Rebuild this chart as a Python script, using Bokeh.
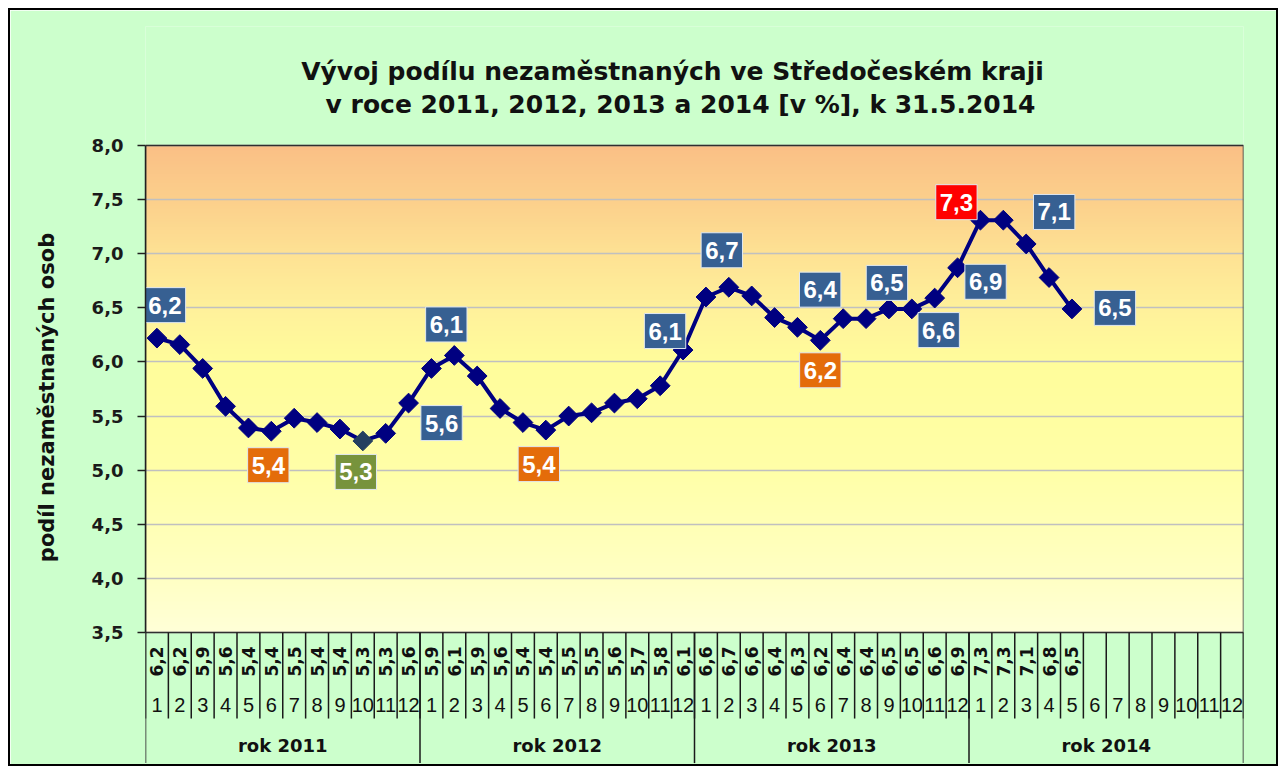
import numpy as np
from bokeh.plotting import figure
from bokeh.models import ColumnDataSource, FixedTicker, Range1d
from bokeh.core.properties import value
from bokeh.embed import file_html
from bokeh.resources import INLINE

# ---------------- data ----------------
years = ["2011", "2012", "2013", "2014"]
year_labels = ["rok 2011", "rok 2012", "rok 2013", "rok 2014"]
months = [str(m) for m in range(1, 13)]
v2011 = [6.22, 6.16, 5.94, 5.59, 5.39, 5.36, 5.48, 5.44, 5.38, 5.27, 5.34, 5.62]
v2012 = [5.94, 6.06, 5.87, 5.57, 5.44, 5.37, 5.50, 5.53, 5.62, 5.66, 5.78, 6.11]
v2013 = [6.60, 6.69, 6.61, 6.41, 6.32, 6.20, 6.40, 6.40, 6.49, 6.49, 6.59, 6.87]
v2014 = [7.31, 7.31, 7.09, 6.78, 6.49]
y_ticks = [3.5, 4.0, 4.5, 5.0, 5.5, 6.0, 6.5, 7.0, 7.5, 8.0]
title_lines = ["Vývoj podílu nezaměstnaných ve Středočeském kraji",
               "v roce 2011, 2012, 2013 a 2014 [v %], k 31.5.2014"]
y_title = "podíl nezaměstnaných osob"

# callout data labels: (point index, colour key, dx px, dy px)
callouts = [(0, "blue", 8, -33), (5, "orange", -3, 34), (9, "green", -7, 31),
            (11, "blue", 33, 20), (13, "blue", -8, -31), (17, "orange", -7, 34),
            (23, "blue", -18, -19), (25, "blue", -7, -37), (30, "blue", -23, -29),
            (29, "orange", 0, 30), (32, "blue", -2, -26), (34, "blue", 4, 32),
            (36, "red", -24, -18), (35, "blue", 28, 14), (38, "blue", 28, -32),
            (40, "blue", 43, -1)]
box_colors = {"blue": "#376092", "orange": "#E46C0A", "green": "#77933C", "red": "#FF0000"}

def fmt(v):
    return f"{v:.1f}".replace(".", ",")

values = v2011 + v2012 + v2013 + v2014
n_slots = len(years) * len(months)
xs = list(range(1, len(values) + 1))

# ---------------- figure ----------------
FONT = "Liberation Sans"
WIDE = "DejaVu Sans"
W, H = 1270, 758
LEFT, RIGHT, TOP_PX, AREA_TOP = 135, 37, 16, 135
px_per_unit = 487 / 4.5
y_bottom = 8.0 - (H - AREA_TOP) / px_per_unit
y_top = 8.0 + (AREA_TOP - TOP_PX) / px_per_unit

p = figure(width=W, height=H, output_backend="svg", toolbar_location=None,
           x_range=Range1d(0.5, n_slots + 0.5), y_range=Range1d(y_bottom, y_top),
           x_axis_type=None, min_border_left=LEFT, min_border_right=RIGHT,
           min_border_top=TOP_PX, min_border_bottom=0, title=None)
p.margin = (8, 0, 0, 8)
p.styles = {"border": "2px solid black"}
p.background_fill_color = "#CCFFCC"
p.border_fill_color = "#CCFFCC"
p.outline_line_color = None

# gradient plot area (styling)
stops_v = [3.5, 4.0, 5.0, 6.0, 6.5, 7.0, 7.5, 8.0]
stops_c = [(255, 255, 216), (255, 255, 196), (255, 255, 168), (255, 253, 155),
           (255, 241, 155), (254, 226, 148), (252, 208, 140), (250, 192, 134)]
N = 300
ys_g = np.linspace(3.5, 8.0, N)
img = np.empty((N, 1), dtype=np.uint32)
view = img.view(dtype=np.uint8).reshape((N, 1, 4))
for k in range(3):
    view[:, 0, k] = np.interp(ys_g, stops_v, [c[k] for c in stops_c]).astype(np.uint8)
view[:, 0, 3] = 255
p.image_rgba(image=[img], x=0.5, y=3.5, dw=n_slots, dh=4.5, level="image")

# y axis
p.yaxis.bounds = (3.5, 8.0)
p.yaxis.ticker = FixedTicker(ticks=y_ticks)
p.yaxis.major_label_overrides = {t: fmt(t) for t in y_ticks}
p.yaxis.major_label_text_font = WIDE
p.yaxis.major_label_text_font_style = "bold"
p.yaxis.major_label_text_font_size = "18px"
p.yaxis.major_label_text_color = "#1a1a1a"
p.yaxis.major_label_standoff = 14
p.yaxis.major_tick_out = 8
p.yaxis.major_tick_in = 0
p.yaxis.minor_tick_line_color = None
p.yaxis.axis_line_color = "#202020"
p.yaxis.axis_line_width = 1.5
p.yaxis.major_tick_line_color = "#202020"
p.yaxis.major_tick_line_width = 1.5
p.yaxis.axis_label = y_title
p.yaxis.axis_label_text_font = WIDE
p.yaxis.axis_label_text_font_style = "bold"
p.yaxis.axis_label_text_font_size = "21px"
p.yaxis.axis_label_text_color = "#111111"
p.yaxis.axis_label_standoff = 30
p.ygrid.ticker = FixedTicker(ticks=y_ticks)
p.ygrid.grid_line_color = "#C0C0C0"
p.ygrid.grid_line_width = 1.5

# plot-area frame
p.quad(left=[0.5], right=[n_slots + 0.5], bottom=[3.5], top=[8.0],
       fill_color=None, line_color="#303030", line_width=1.5)

# title
p.text(x=[23.54, 23.89], y=[8.684, 8.379], text=title_lines, text_align="center",
       text_baseline="middle", text_font=value(WIDE), text_font_style="bold",
       text_font_size="25px", text_color="#111111")

# category table below the plot area
bounds_x = [i + 0.5 for i in range(n_slots + 1)]
year_bounds = [i * len(months) + 0.5 for i in range(len(years) + 1)]
row_val, row_month, row_line, row_year = 3.232, 2.826, 2.705, 2.456
p.segment(x0=bounds_x, y0=[3.5] * len(bounds_x), x1=bounds_x, y1=[row_line] * len(bounds_x),
          line_color="#1a1a1a", line_width=1.5)
p.segment(x0=year_bounds, y0=[3.5] * len(year_bounds), x1=year_bounds,
          y1=[y_bottom + 0.05] * len(year_bounds), line_color="#1a1a1a", line_width=1.5)
p.text(x=xs, y=[row_val] * len(xs), text=[fmt(v) for v in values], angle=np.pi / 2,
       text_align="center", text_baseline="middle", text_font=value(WIDE),
       text_font_style="bold", text_font_size="17px", text_color="#111111")
slot_x = list(range(1, n_slots + 1))
p.text(x=slot_x, y=[row_month] * n_slots, text=months * len(years),
       text_align="center", text_baseline="middle", text_font=value(FONT),
       text_font_size="20px", text_color="#111111")
p.text(x=[6.5 + 12 * i for i in range(len(years))], y=[row_year] * len(years),
       text=year_labels, text_align="center", text_baseline="middle",
       text_font=value(WIDE), text_font_style="bold", text_font_size="18px",
       text_color="#111111")

# series
p.line(xs, values, line_color="#000080", line_width=4)
mcolors = ["#000080"] * len(values)
mcolors[9] = "#243F60"
p.scatter(xs, values, marker="square", size=14, angle=np.pi / 4,
          fill_color=mcolors, line_color=mcolors)

# callout labels
src = ColumnDataSource(dict(
    x=[xs[i] for i, _, _, _ in callouts],
    y=[values[i] for i, _, _, _ in callouts],
    t=[fmt(values[i]) for i, _, _, _ in callouts],
    bg=[box_colors[c] for _, c, _, _ in callouts],
    dx=[dx for _, _, dx, _ in callouts],
    dy=[dy for _, _, _, dy in callouts],
))
p.text(x="x", y="y", text="t", source=src, x_offset="dx", y_offset="dy",
       text_align="center", text_baseline="middle", text_font=value(FONT),
       text_font_style="bold", text_font_size="24px", text_color="white",
       background_fill_color="bg", border_line_color="#E0E8F0", border_line_width=1,
       padding=(4, 9))

open("out.html", "w").write(file_html(p, INLINE))
